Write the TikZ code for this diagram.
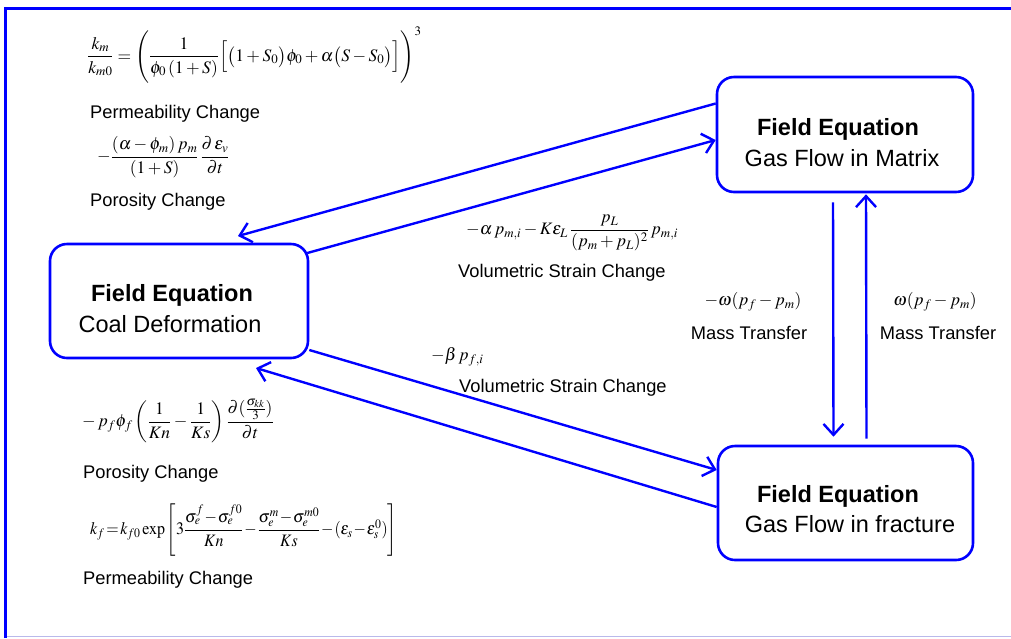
\documentclass[tikz,border=0pt]{standalone}
\usepackage{amsmath}
\usepackage{mathptmx}
\usepackage[no-math]{fontspec}
\setmainfont{Liberation Sans}
\usetikzlibrary{arrows.meta,calc}
\definecolor{fblue}{RGB}{0,0,255}
\definecolor{lblue}{RGB}{185,185,235}
\tikzset{
  box/.style={draw=fblue, line width=2.6pt, rounded corners=17pt, fill=white},
  ttl/.style={font=\fontsize{23.5}{28}\selectfont\bfseries, inner sep=0pt},
  sub/.style={font=\fontsize{23.5}{28}\selectfont, inner sep=0pt},
  lbl/.style={font=\fontsize{18.3}{22}\selectfont, inner sep=0pt, anchor=west},
  eq/.style={font=\fontsize{17.5}{20}\selectfont, inner sep=0pt},
  arr/.style={draw=fblue, line width=2.4pt, -{Straight Barb[length=11pt,width=20pt]}},
}
\begin{document}
\begin{tikzpicture}[x=1pt,y=-1pt]
\useasboundingbox (0,0) rectangle (1011,638);
\fill[white] (0,0) rectangle (1011,638);
% frame
\draw[lblue, line width=1.5pt] (5,636.5) -- (1011,636.5);
\draw[fblue, line width=3pt] (5,638) -- (5,8) -- (1012,8);

% boxes
\node[box, minimum width=256pt, minimum height=115pt] (mat) at (845,134.5) {};
\node[box, minimum width=258pt, minimum height=114pt] (coal) at (179,301) {};
\node[box, minimum width=255pt, minimum height=114pt] (frac) at (845.5,503) {};

\node[ttl] (matT) at (838,129) {Field Equation};
\node[sub] (matS) at (842,158) {Gas Flow in Matrix};
\node[ttl] (coalT) at (172,295) {Field Equation};
\node[sub] (coalS) at (170,324) {Coal Deformation};
\node[ttl] (fracT) at (838,496) {Field Equation};
\node[sub] (fracS) at (850,524) {Gas Flow in fracture};

% arrows
\coordinate (a1end) at (238,236);
\coordinate (a4end) at (256,368);
\draw[arr] ($(mat.west)+(0,-31)$) -- (a1end);
\draw[arr] ($(coal.east)+(-2,-48)$) -- ($(mat.west)+(0,5.5)$);
\draw[arr] ($(coal.east)+(0,49)$) -- ($(frac.west)+(0,-33)$);
\draw[arr] ($(frac.west)+(0,4)$) -- (a4end);
\draw[arr] ($(mat.south)+(-12,9)$) -- ($(frac.north)+(-12,-8)$);
\draw[arr] ($(frac.north)+(21,-6)$) -- ($(mat.south)+(21,1)$);

% equations and labels
\node[eq, anchor=west] (e1) at (87,55) {$\dfrac{k_m}{k_{m0}}=\Biggl(\dfrac{1}{\phi_0\left(1+S\right)}\Big[\big(1+S_0\big)\phi_0+\alpha\big(S-S_0\big)\Big]\Biggr)^{3}$};
\node[lbl] (l1) at (90,114) {Permeability Change};
\node[eq, anchor=west] (e2) at (97,157) {$-\dfrac{(\alpha-\phi_m)\,p_m}{(1+S)}\,\dfrac{\partial\,\varepsilon_v}{\partial t}$};
\node[lbl] (l2) at (90,202) {Porosity Change};
\node[eq, anchor=west] (e3) at (466,233) {$-\alpha\, p_{m,i}-K\varepsilon_L\,\dfrac{p_L}{(p_m+p_L)^2}\,p_{m,i}$};
\node[lbl] (l3) at (458,273) {Volumetric Strain Change};
\node[eq] (e4) at (753,302) {$-\omega(p_f-p_m)$};
\node[lbl, anchor=center] (l4) at (749,333) {Mass Transfer};
\node[eq] (e5) at (935,302) {$\omega(p_f-p_m)$};
\node[lbl, anchor=center] (l5) at (938,333) {Mass Transfer};
\node[eq, anchor=west] (e6) at (431,357) {$-\beta\, p_{f,i}$};
\node[lbl] (l6) at (459,388) {Volumetric Strain Change};
\node[eq, anchor=west] (e7) at (82,421) {$-\,p_f\phi_f\left(\dfrac{1}{Kn}-\dfrac{1}{Ks}\right)\dfrac{\partial(\frac{\sigma_{kk}}{3})}{\partial t}$};
\node[lbl] (l7) at (83,474) {Porosity Change};
\node[eq, anchor=west] (e8) at (90,530) {\scalebox{0.91}[1]{$\medmuskip=1mu\thickmuskip=2mu k_f=k_{f0}\exp\left[3\dfrac{\sigma_e^f-\sigma_e^{f0}}{Kn}-\dfrac{\sigma_e^m-\sigma_e^{m0}}{Ks}-(\varepsilon_s-\varepsilon_s^0)\right]$}};
\node[lbl] (l8) at (83,580) {Permeability Change};
\end{tikzpicture}
\end{document}
